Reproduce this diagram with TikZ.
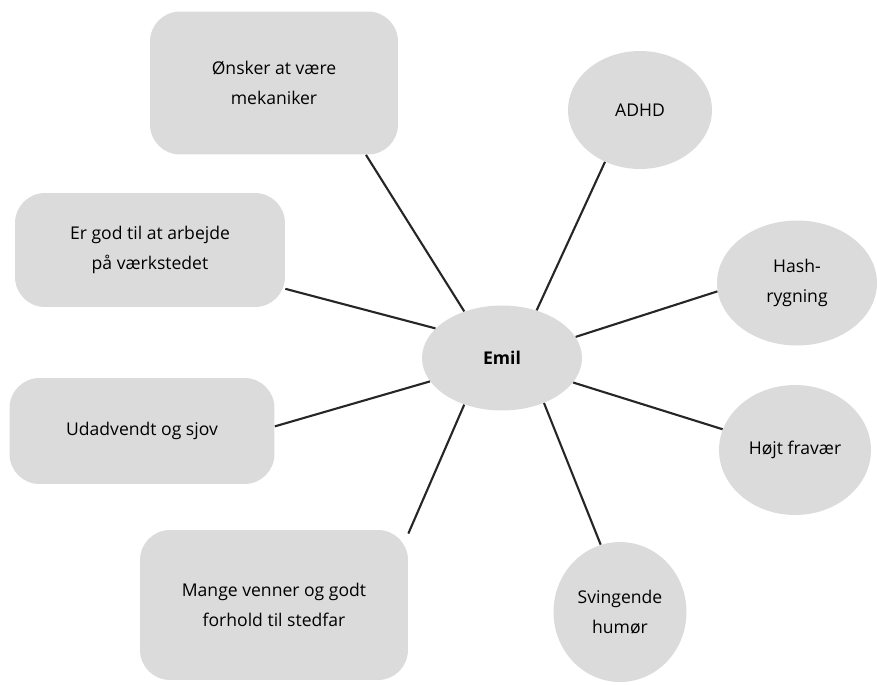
\documentclass[tikz,border=0pt]{standalone}
\usepackage{fontspec}
\setmainfont{Open Sans}
\usepackage{tikz}
\usetikzlibrary{shapes.geometric}

\tikzset{
  box/.style={fill=gray!28, rounded corners=0.6cm, inner sep=0pt, align=center,
    font=\fontsize{10}{17}\selectfont},
  oval/.style={ellipse, fill=gray!28, inner sep=0pt, align=center,
    font=\fontsize{10}{17}\selectfont},
  link/.style={line width=1.2pt, black!85}
}

\begin{document}
\begin{tikzpicture}[x=0.02cm, y=-0.02cm]
  \useasboundingbox (0,0) rectangle (877,684);

  % Center
  \node[oval, minimum width=3.2cm, minimum height=2.1cm] (emil) at (502,358) {\textbf{Emil}};

  % Boxes on the left
  \node[box, minimum width=4.96cm, minimum height=2.86cm] (wish) at (274,83) {Ønsker at være\\mekaniker};
  \node[box, minimum width=5.4cm, minimum height=2.28cm] (work) at (150,250) {Er god til at arbejde\\på værkstedet};
  \node[box, minimum width=5.3cm, minimum height=2.12cm] (outgoing) at (142,431) {Udadvendt og sjov};
  \node[box, minimum width=5.36cm, minimum height=3cm] (friends) at (274,605) {Mange venner og godt\\forhold til stedfar};

  % Ovals on the right
  \node[oval, minimum width=2.88cm, minimum height=2.36cm] (adhd) at (640,110) {ADHD};
  \node[oval, minimum width=3.2cm, minimum height=2.5cm] (hash) at (797,283) {Hash-\\rygning};
  \node[oval, minimum width=3.04cm, minimum height=2.6cm] (absence) at (795,450) {Højt fravær};
  \node[oval, minimum width=2.66cm, minimum height=2.8cm] (mood) at (620,612) {Svingende\\humør};

  % Links
  \draw[link] (emil.129) -- (wish.-38);
  \draw[link] (emil.54) -- (adhd.236);
  \draw[link] (emil.156) -- (work.-16);
  \draw[link] (emil.16) -- (hash.186);
  \draw[link] (emil.198) -- (outgoing.2);
  \draw[link] (emil.-19) -- (absence.164);
  \draw[link] (emil.231) -- (friends.28);
  \draw[link] (emil.313) -- (mood.106);
\end{tikzpicture}
\end{document}
